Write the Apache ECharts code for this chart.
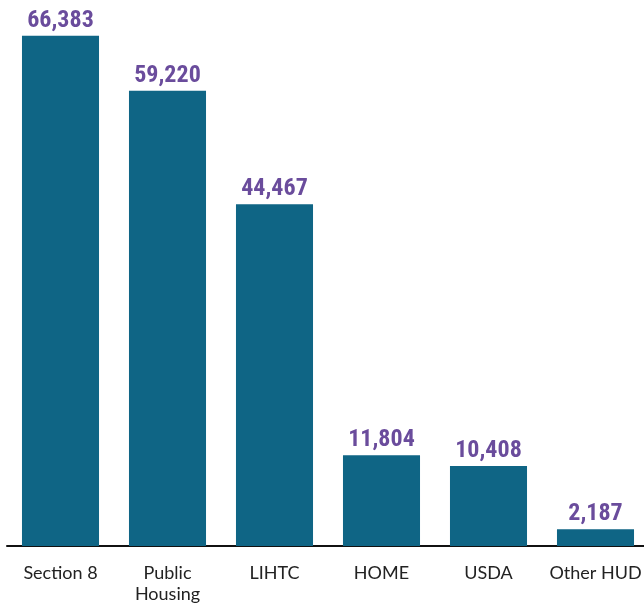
<!DOCTYPE html>
<html><head><meta charset="utf-8">
<script src="https://cdn.jsdelivr.net/npm/echarts@6/dist/echarts.min.js"></script>
<style>html,body{margin:0;padding:0;background:#fff}#c{width:644px;height:603px}</style>
</head><body><div id="c"></div>
<script>
const categories = ["Section 8", "Public\nHousing", "LIHTC", "HOME", "USDA", "Other HUD"];
const values = [66383, 59220, 44467, 11804, 10408, 2187];
const chart = echarts.init(document.getElementById('c'));
chart.setOption({
  animation: false,
  grid: {left: 7, width: 642, top: 8, height: 538, outerBoundsMode: 'none', containLabel: false},
  xAxis: {
    type: 'category', data: categories,
    axisLine: {lineStyle: {color: '#111', width: 2}},
    axisTick: {show: false},
    axisLabel: {color: '#222', fontSize: 18, fontFamily: 'Lato, "Noto Sans", sans-serif', margin: 17, lineHeight: 21, interval: 0}
  },
  yAxis: {type: 'value', min: 0, max: 70000, show: false, splitLine: {show: false}},
  series: [{
    type: 'bar', data: values, barCategoryGap: '28%',
    itemStyle: {color: '#0f6585'},
    label: {show: true, position: 'top', distance: 3, color: '#6a4c9c', fontSize: 24, fontWeight: 'bold',
      fontFamily: '"Liberation Sans Narrow", "Roboto Condensed", Roboto, sans-serif',
      formatter: p => p.value.toLocaleString('en-US')}
  }]
});
</script></body></html>
